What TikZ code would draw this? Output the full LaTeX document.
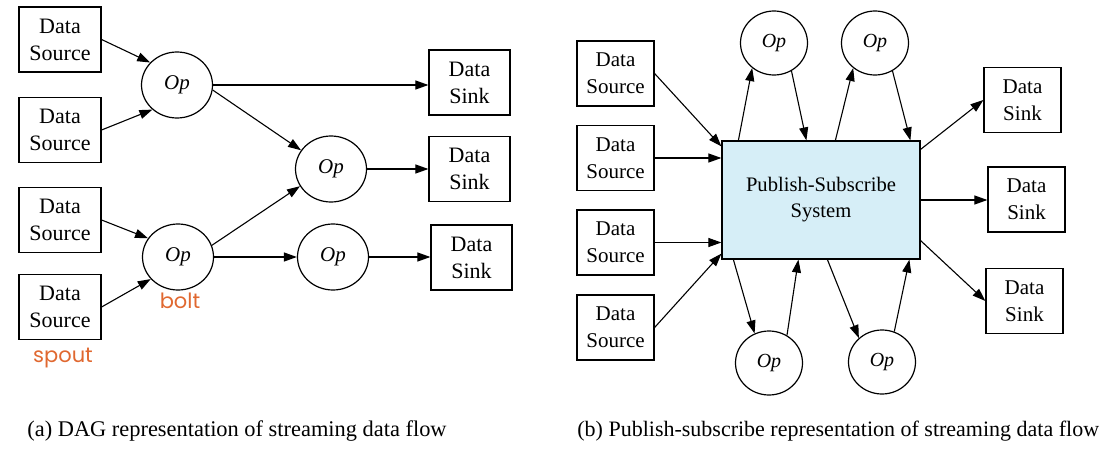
\documentclass[tikz,border=0pt]{standalone}
\usepackage{fontspec}
\setmainfont{Liberation Serif}
\newfontfamily\tagfont{Poppins}
\usetikzlibrary{arrows.meta,shapes,positioning}
\definecolor{psblue}{RGB}{214,238,247}
\definecolor{tagorange}{RGB}{224,104,48}

\begin{document}
\begin{tikzpicture}[x=0.5pt,y=-0.5pt,
  box/.style={draw,line width=0.6pt,minimum width=41pt,minimum height=32.5pt,inner sep=0pt,align=center,font=\fontsize{11}{13.5}\selectfont},
  pbox/.style={box,minimum width=38.5pt,font=\fontsize{10.5}{13.5}\selectfont},
  op/.style={draw,ellipse,line width=0.6pt,minimum width=35.5pt,minimum height=33pt,inner sep=0pt,font=\fontsize{10.5}{12}\selectfont\itshape},
  pop/.style={op,minimum width=33.5pt,minimum height=32pt,font=\fontsize{10}{12}\selectfont\itshape},
  flow/.style={-{Triangle[length=6.5pt,width=4.5pt]},line width=0.55pt},
  tag/.style={text=tagorange,font=\tagfont\fontsize{10.5}{12}\selectfont,anchor=base},
  caption/.style={anchor=base west,inner sep=0pt,font=\fontsize{11.2}{13}\selectfont}]

\useasboundingbox (0,0) rectangle (1110,450);

% (a) DAG
\foreach \i/\y in {1/39.5,2/130,3/220,4/307}
  \node[box] (s\i) at (60,\y) {Data\\Source};

\node[op] (o1) at (177,85) {Op};
\node[op] (o2) at (331,169) {Op};
\node[op] (o3) at (178,257) {Op};
\node[op] (o4) at (333,257) {Op};

\node[box,minimum width=40.5pt] (k1) at (469.5,82.5) {Data\\Sink};
\node[box,minimum width=40.5pt] (k2) at (469.5,169) {Data\\Sink};
\node[box,minimum width=40.5pt] (k3) at (471.5,257.5) {Data\\Sink};

\node[tag] (bolt) at (180,308) {bolt};
\node[tag] (spout) at (63,362) {spout};

\draw[flow] (s1.east) -- (o1.140);
\draw[flow] (s2.east) -- (o1.225);
\draw[flow] (s3.east) -- (o3.148);
\draw[flow] (s4.east) -- (o3.219);
\draw[flow] (o1.east) -- (o1.east -| k1.west);
\draw[flow] (o1.-8) -- (o2.148);
\draw[flow] (o3.19) -- (o2.209);
\draw[flow] (o3.east) -- (o4.west);
\draw[flow] (o2.east) -- (k2.west);
\draw[flow] (o4.east) -- (o4.east -| k3.west);

% (b) publish-subscribe
\foreach \i/\y in {1/73.5,2/158,3/242.5,4/327.5}
  \node[pbox] (p\i) at (615.5,\y) {Data\\Source};

\node[draw,fill=psblue,line width=0.6pt,minimum width=99pt,minimum height=59pt,inner sep=0pt,
  align=center,font=\fontsize{10.3}{13}\selectfont] (ps) at (821,200) {Publish-Subscribe\\System};

\node[pop] (t1) at (774,43) {Op};
\node[pop] (t2) at (875,43) {Op};
\node[pop] (b1) at (769,363) {Op};
\node[pop] (b2) at (882,362) {Op};

\node[pbox] (q1) at (1022.5,100) {Data\\Sink};
\node[pbox] (q2) at (1026.5,199.5) {Data\\Sink};
\node[pbox] (q3) at (1024.5,301) {Data\\Sink};

\draw[flow] (p1.east) -- ([yshift=-3pt]ps.north west);
\draw[flow] (p2.east) -- (p2.east -| ps.west);
\draw[flow] (p3.east) -- (p3.east -| ps.west);
\draw[flow] (p4.east) -- ([yshift=3pt]ps.south west);

\draw[flow] ([xshift=8.5pt]ps.north west) -- (t1.229);
\draw[flow] (t1.302) -- ([xshift=42.5pt]ps.north west);
\draw[flow] ([xshift=57pt]ps.north west) -- (t2.229);
\draw[flow] (t2.302) -- ([xshift=94.5pt]ps.north west);

\draw[flow] ([xshift=6pt]ps.south west) -- (b1.116);
\draw[flow] (b1.57) -- ([xshift=38.5pt]ps.south west);
\draw[flow] ([xshift=53pt]ps.south west) -- (b2.134);
\draw[flow] (b2.68) -- ([xshift=94pt]ps.south west);

\draw[flow] ([yshift=-4.5pt]ps.north east) -- (q1.west);
\draw[flow] (ps.east) -- (ps.east -| q2.west);
\draw[flow] ([yshift=9.5pt]ps.south east) -- (q3.west);

% captions
\node[caption] (capa) at (27,436) {(a) DAG representation of streaming data flow};
\node[caption,font=\fontsize{11}{13}\selectfont] (capb) at (577,436) {(b) Publish-subscribe representation of streaming data flow};

\end{tikzpicture}
\end{document}
